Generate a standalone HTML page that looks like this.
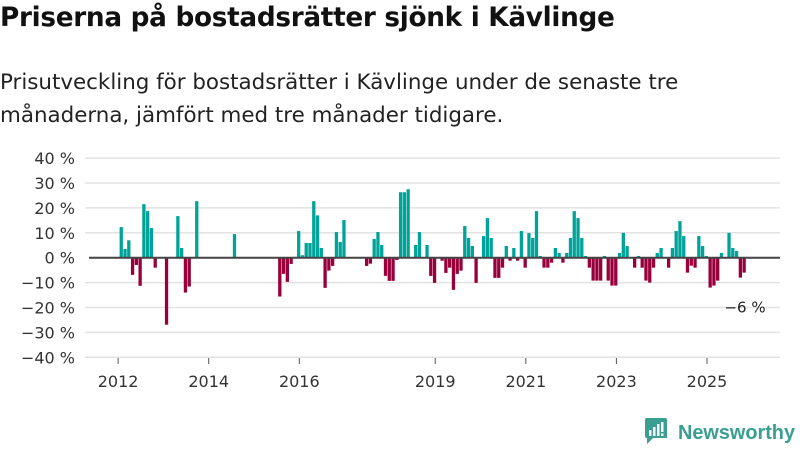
<!DOCTYPE html>
<html><head><meta charset="utf-8">
<style>
html,body{margin:0;padding:0;background:#fff;}
body{width:800px;height:450px;overflow:hidden;position:relative;font-family:"Liberation Sans","DejaVu Sans",sans-serif;color:#111;}
#title{position:absolute;left:0;top:3px;font-size:26.3px;font-weight:bold;font-family:"DejaVu Sans","Liberation Sans",sans-serif;letter-spacing:-0.3px;}
#sub{position:absolute;left:0;top:66px;font-size:21.4px;line-height:33px;font-family:"DejaVu Sans","Liberation Sans",sans-serif;color:#222;}
svg{position:absolute;left:0;top:0;}
</style></head><body>
<div id="title">Priserna på bostadsrätter sjönk i Kävlinge</div>
<div id="sub">Prisutveckling för bostadsrätter i Kävlinge under de senaste tre<br>månaderna, jämfört med tre månader tidigare.</div>
<svg id="chart" width="800" height="450"></svg>
<script>
const yTicks=[40,30,20,10,0,-10,-20,-30,-40];
const yTickLabels=["40 %","30 %","20 %","10 %","0 %","\u221210 %","\u221220 %","\u221230 %","\u221240 %"];
const xTickYears=[2012,2014,2016,2019,2021,2023,2025];
const startYear=2012;
const values=[12.3,3.5,7,-6.9,-2.9,-11.3,21.5,18.7,11.9,-4,null,null,
-26.9,null,null,16.7,3.9,-14,-11.6,null,22.7,null,null,null,
null,null,null,null,null,null,9.5,null,null,null,null,null,
null,null,null,null,null,null,-15.6,-6.5,-9.7,-2.5,null,10.7,
1,5.9,5.9,22.7,17,3.9,-12.1,-5.2,-3.3,10.3,6.3,15.1,
null,null,null,null,null,-3.3,-2.4,7.5,10.3,5.1,-7.3,-9.3,
-9.3,-0.9,26.3,26.3,27.5,null,5.1,10.3,null,5.1,-7.3,-10.1,
null,-1.2,-6.1,-4,-12.9,-6.5,-5.2,12.7,7.9,4.7,-10.1,null,
8.7,15.9,7.9,-8.1,-8.1,-4,4.7,-1.2,3.9,-1.2,10.7,-4,
9.9,7.9,18.7,0.7,-4,-4,-2,3.9,1.9,-2,1.9,7.9,
18.7,15.9,7.9,0.7,-4,-9.2,-9.2,-9.2,0.7,-9.2,-11.2,-11.2,
1.9,10,4.7,null,-4,0.7,-4,-9.2,-10,-4,1.9,3.9,
null,-4,3.9,10.7,14.7,8.7,-6,-3.2,-4,8.7,4.7,0.7,
-12,-11.2,-9.2,1.9,null,10,3.9,2.7,-8,-6];
const lastLabel="\u22126 %";

const NS="http://www.w3.org/2000/svg";
const svg=document.getElementById('chart');
const y0=257.7, pxPer=2.49;
function yScale(v){return y0-v*pxPer;}
function xScale(i){return 119.6+i*3.775;}
function mk(t,a){const e=document.createElementNS(NS,t);for(const k in a)e.setAttribute(k,a[k]);svg.appendChild(e);return e;}

yTicks.forEach((t,k)=>{
  if(t!==0){const g=mk('line',{x1:85,x2:780,y1:yScale(t),y2:yScale(t),stroke:'#e2e2e2','stroke-width':1.5});
  
  }
  const tx=mk('text',{x:75,y:yScale(t)+6,'text-anchor':'end','font-size':16,fill:'#333','font-family':'DejaVu Sans, Liberation Sans, sans-serif'});
  tx.textContent=yTickLabels[k];
  
  
});
values.forEach((v,i)=>{
  if(v===null)return;
  const y=Math.min(yScale(v),y0), h=Math.abs(yScale(v)-y0);
  const r=mk('rect',{x:xScale(i),y:y,width:3.3,height:h,fill:v>=0?'#00a39a':'#97003a'});
  
  
});
const z=mk('line',{x1:89,x2:780,y1:y0,y2:y0,stroke:'#444','stroke-width':2});


xTickYears.forEach(yr=>{
  const x=xScale((yr-startYear)*12)-1.5;
  const l=mk('line',{x1:x,x2:x,y1:358,y2:364,stroke:'#555','stroke-width':1});
  
  
  const t=mk('text',{x:x,y:387,'text-anchor':'middle','font-size':16,fill:'#333','font-family':'DejaVu Sans, Liberation Sans, sans-serif'});
  t.textContent=yr;
  
  
});
const li=values.length-1;
const lab=mk('text',{x:xScale(li)-18,y:yScale(values[li])+40,'font-size':15,fill:'#222','font-family':'DejaVu Sans, Liberation Sans, sans-serif'});
lab.textContent=lastLabel;


</script>
<svg width="160" height="36" style="left:643px;top:414px">
<path d="M2 4 h20 a2 2 0 0 1 2 2 v18 h-14 l-6 6 v-6 h-0 a2 2 0 0 1 -2 -2 v-16 a2 2 0 0 1 2 -2z" fill="#3a9e91"/>
<rect x="6" y="16" width="2.5" height="6" fill="#fff"/><rect x="10" y="13" width="2.5" height="9" fill="#fff"/><rect x="14" y="10" width="2.5" height="12" fill="#fff"/><rect x="18" y="8" width="2.5" height="10" fill="#fff"/><rect x="18" y="19.5" width="2.5" height="2.5" fill="#fff"/>
<text x="35" y="25" font-size="20" font-weight="bold" textLength="117" lengthAdjust="spacingAndGlyphs" font-family="Liberation Sans, DejaVu Sans, sans-serif" fill="#3a9e91">Newsworthy</text>
</svg>
</body></html>
